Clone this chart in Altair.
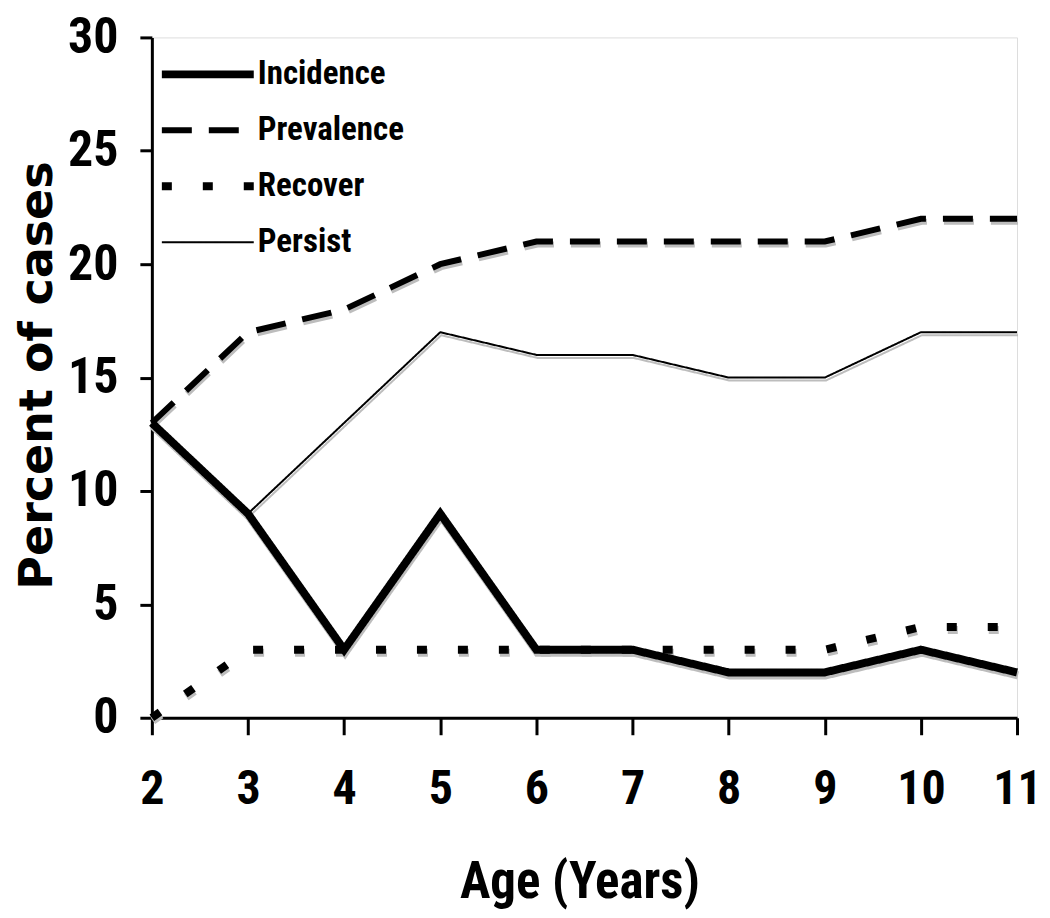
import altair as alt
import pandas as pd

ages = [2, 3, 4, 5, 6, 7, 8, 9, 10, 11]
incidence = [13, 9, 3, 9, 3, 3, 2, 2, 3, 2]
prevalence = [13, 17, 18, 20, 21, 21, 21, 21, 22, 22]
recover = [0, 3, 3, 3, 3, 3, 3, 3, 4, 4]
persist_ages = [3, 4, 5, 6, 7, 8, 9, 10, 11]
persist = [9, 13, 17, 16, 16, 15, 15, 17, 17]
series_names = ["Incidence", "Prevalence", "Recover", "Persist"]

rows = []
for a, v in zip(ages, incidence):
    rows.append({"age": a, "pct": v, "series": "Incidence"})
for a, v in zip(ages, prevalence):
    rows.append({"age": a, "pct": v, "series": "Prevalence"})
for a, v in zip(ages, recover):
    rows.append({"age": a, "pct": v, "series": "Recover"})
for a, v in zip(persist_ages, persist):
    rows.append({"age": a, "pct": v, "series": "Persist"})
df = pd.DataFrame(rows)

NARROW = "'Liberation Sans Narrow', 'Arial Narrow', 'Roboto Condensed', 'Liberation Sans', sans-serif"
HEAVY = "'DejaVu Sans', 'Arial Black', sans-serif"

dash_range = [[1, 0], [30, 17], [10, 31], [1, 0]]
width_range = [8, 6, 8, 2]


def dash_scale():
    return alt.Scale(type="ordinal", domain=series_names, range=dash_range)


def width_scale():
    return alt.Scale(type="ordinal", domain=series_names, range=width_range)


x_enc = alt.X(
    "age:Q",
    scale=alt.Scale(domain=[2, 11], nice=False, zero=False),
    axis=alt.Axis(
        values=ages, format="d", title="Age (Years)",
        titleFont=NARROW, titleFontSize=51, titleFontWeight="bold",
        titleX=428, titleY=180, titleBaseline="alphabetic", titleAlign="center",
        labelFont=NARROW, labelFontSize=48, labelFontWeight="bold", labelColor="black",
        labelPadding=31, labelFlush=False, tickSize=17, tickWidth=3, tickColor="black",
        domainColor="black", domainWidth=3, grid=False,
    ),
)
y_enc = alt.Y(
    "pct:Q",
    scale=alt.Scale(domain=[0, 30], nice=False),
    axis=alt.Axis(
        values=[0, 5, 10, 15, 20, 25, 30], title="Percent of cases",
        titleFont=HEAVY, titleFontSize=46, titleFontWeight="bold",
        titleX=-100, titleY=338, titleBaseline="alphabetic", titleAlign="center", titleAngle=270,
        labelFont=NARROW, labelFontSize=50, labelFontWeight="bold", labelColor="black",
        labelPadding=22, labelFlush=False, tickSize=12, tickWidth=3, tickColor="black",
        domainColor="black", domainWidth=3, grid=False,
    ),
)

legend = alt.Legend(
    title=None, orient="none", legendX=6, legendY=22,
    symbolType="stroke", symbolSize=8464, symbolStrokeColor="black",
    clipHeight=30, rowPadding=23, labelOffset=0, padding=0,
    labelFont=NARROW, labelFontSize=33, labelFontWeight="bold", labelColor="black",
)

shadow = alt.Chart(df).mark_line(color="#bdbdbd", strokeCap="butt", yOffset=3, xOffset=1).encode(
    x=x_enc, y=y_enc,
    strokeDash=alt.StrokeDash("series:N", scale=dash_scale(), legend=None),
    strokeWidth=alt.StrokeWidth("series:N", scale=width_scale(), legend=None),
)

lines = alt.Chart(df).mark_line(color="black", strokeCap="butt").encode(
    x=x_enc, y=y_enc,
    strokeDash=alt.StrokeDash("series:N", scale=dash_scale(), sort=series_names, legend=legend),
    strokeWidth=alt.StrokeWidth("series:N", scale=width_scale(), sort=series_names, legend=legend),
)

chart = (
    alt.layer(shadow, lines)
    .resolve_scale(strokeDash="independent", strokeWidth="independent")
    .resolve_legend(strokeDash="independent", strokeWidth="independent")
    .properties(
        width=866, height=681,
        autosize=alt.AutoSizeParams(type="none"),
        padding={"left": 144, "top": 29, "right": 25, "bottom": 192},
    )
    .configure_view(stroke="black", strokeWidth=3)
    .configure(background="white")
)

chart.save("out.html", embed_options={"renderer": "svg", "actions": False})
